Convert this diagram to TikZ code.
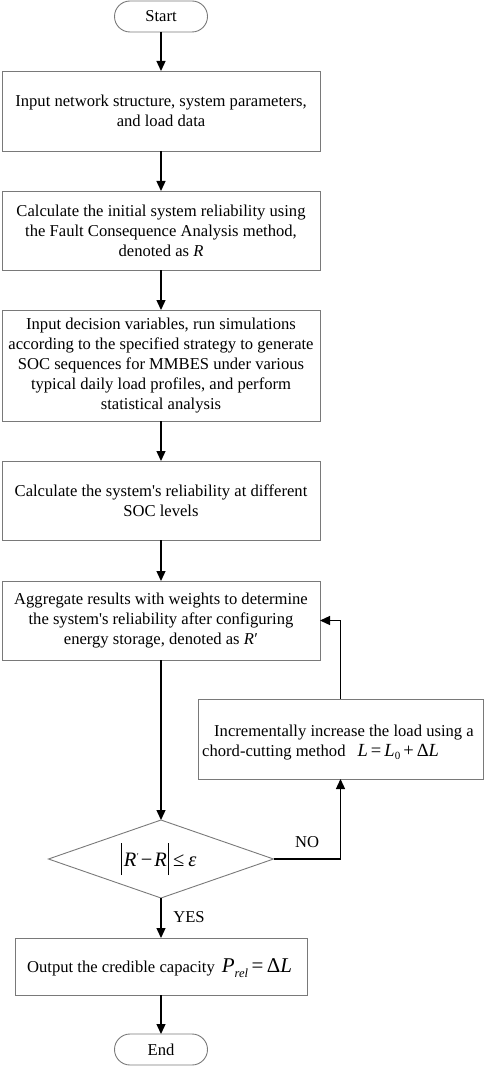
\documentclass[tikz,border=0pt]{standalone}
\usepackage{fontspec}
\setmainfont{Liberation Serif}[Ligatures=TeXOff]
\usetikzlibrary{arrows.meta,shapes.geometric,calc}
\begin{document}
\begin{tikzpicture}[x=1pt,y=-1pt,
  font=\fontsize{16.6}{20}\selectfont,
  box/.style={draw=gray!95!black, line width=0.9pt, rectangle, inner sep=0pt, outer sep=0pt, align=center, minimum width=318pt},
  term/.style={draw=gray!95!black, line width=0.9pt, rectangle, rounded corners=15.5pt, inner sep=0pt, outer sep=0pt, minimum width=93pt, minimum height=31pt},
  dec/.style={draw=gray!95!black, line width=0.9pt, diamond, aspect=2.88, inner sep=0pt, outer sep=0pt, minimum width=225pt, minimum height=78pt},
  arr/.style={draw=black, line width=1.3pt, -{Triangle[length=10pt,width=9pt]}},
  lbl/.style={inner sep=0pt}
]
\useasboundingbox (0,0) rectangle (484,1067);
\node[term] (start) at (161,16.5) {Start};
\node[box, minimum height=80pt] (b1) at (161,111) {Input network structure, system parameters,\\and load data};
\node[box, minimum height=79pt] (b2) at (161,230.5) {Calculate the initial system reliability using\\the Fault Consequence Analysis method,\\denoted as \textit{R}};
\node[box, minimum height=111pt] (b3) at (161,365.5) {Input decision variables, run simulations\\according to the specified strategy to generate\\SOC sequences for MMBES under various\\typical daily load profiles, and perform\\statistical analysis};
\node[box, minimum height=79pt] (b4) at (161,500.5) {Calculate the system's reliability at different\\SOC levels};
\node[box, minimum height=79pt] (b5) at (161,620.5) {Aggregate results with weights to determine\\the system's reliability after configuring\\energy storage, denoted as \textit{R}\kern0.5pt′};
\node[box, minimum width=285pt, minimum height=80pt] (b6) at (340.5,739) {};
\node[lbl, anchor=base west] at (214,736) {Incrementally increase the load using a};
\node[lbl, anchor=base west] at (202,756) {chord-cutting method\hspace{12pt}{\fontsize{18.5}{20}\selectfont\textit{L}\,=\,\textit{L}{\fontsize{11}{11}\selectfont\raisebox{-3pt}{0}}\,+\,Δ\textit{L}}};
\node[dec] (dia) at (161,859) {};
\node[lbl] at (159,859) {\fontsize{20.5}{20}\selectfont\rule[-9pt]{0.8pt}{32pt}\kern1.5pt\textit{R}\raisebox{7pt}{\fontsize{9}{9}\selectfont\kern0.5pt′}\kern2pt−\kern2pt\textit{R}\kern1.5pt\rule[-9pt]{0.8pt}{32pt}\kern4pt≤\kern4pt\textit{ε}};
\node[box, minimum width=292pt, minimum height=57pt] (b7) at (161,966.5) {};
\node[lbl, anchor=base west] at (27,972) {Output the credible capacity\hspace{7pt}{\fontsize{21}{20}\selectfont\textit{P}{\fontsize{12.5}{12}\selectfont\raisebox{-5pt}{\textit{rel}}}\,=\,Δ\textit{L}}};
\node[term] (end) at (161,1049.5) {End};
\node[lbl] at (307,842) {NO};
\node[lbl] at (189,917) {YES};
\draw[arr] (start) -- (b1);
\draw[arr] (b1) -- (b2);
\draw[arr] (b2) -- (b3);
\draw[arr] (b3) -- (b4);
\draw[arr] (b4) -- (b5);
\draw[arr] (b5) -- (dia);
\draw[arr] (dia.east) -| (b6.south);
\draw[arr] (b6.north) |- (b5.east);
\draw[arr] (dia) -- (b7);
\draw[arr] (b7) -- (end);
\end{tikzpicture}
\end{document}
